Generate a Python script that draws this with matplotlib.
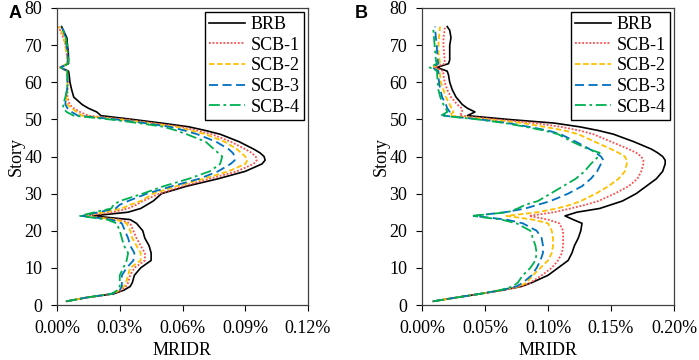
import matplotlib
matplotlib.use("Agg")
import matplotlib.pyplot as plt
from matplotlib.ticker import FuncFormatter

stories = [1, 2, 3, 4, 5, 6, 8, 10, 12, 14, 16, 18, 20, 22, 23, 24, 25, 26, 27, 28,
           30, 32, 34, 36, 38, 39, 40, 41, 42, 44, 46, 47, 48, 49, 50, 51, 52, 53, 54,
           56, 58, 60, 62, 63, 64, 65, 66, 68, 70, 72, 74, 75]

series_names = ["BRB", "SCB-1", "SCB-2", "SCB-3", "SCB-4"]

# Panel A values (MRIDR in %)
a_brb = [0.0046, 0.014, 0.027, 0.032, 0.035, 0.036, 0.037, 0.040, 0.045, 0.045, 0.044, 0.042,
         0.041, 0.038, 0.035, 0.017, 0.034, 0.040, 0.043, 0.046, 0.050, 0.062, 0.077, 0.090,
         0.098, 0.0995, 0.099, 0.097, 0.094, 0.087, 0.078, 0.071, 0.063, 0.050, 0.036, 0.021,
         0.019, 0.015, 0.012, 0.008, 0.007, 0.0062, 0.0058, 0.0055, 0.0015, 0.0055, 0.0055,
         0.0054, 0.0050, 0.0047, 0.003, 0.0022]
a_scb1 = [0.0046, 0.014, 0.026, 0.031, 0.033, 0.034, 0.035, 0.037, 0.042, 0.042, 0.040, 0.038,
          0.0365, 0.035, 0.030, 0.013, 0.027, 0.034, 0.038, 0.041, 0.049, 0.060, 0.073, 0.086,
          0.094, 0.0955, 0.095, 0.093, 0.090, 0.083, 0.074, 0.067, 0.059, 0.046, 0.032, 0.015,
          0.011, 0.008, 0.006, 0.005, 0.005, 0.0052, 0.005, 0.0048, 0.0015, 0.005, 0.005,
          0.0045, 0.004, 0.003, 0.0015, 0.0008]
a_scb2 = [0.0046, 0.014, 0.026, 0.030, 0.032, 0.033, 0.034, 0.035, 0.040, 0.040, 0.038, 0.036,
          0.035, 0.0333, 0.028, 0.012, 0.023, 0.031, 0.035, 0.040, 0.046, 0.057, 0.070, 0.082,
          0.090, 0.091, 0.090, 0.088, 0.086, 0.080, 0.071, 0.064, 0.057, 0.044, 0.030, 0.012,
          0.0094, 0.007, 0.005, 0.0045, 0.005, 0.005, 0.0048, 0.0046, 0.0015, 0.0048, 0.005,
          0.0045, 0.004, 0.0032, 0.002, 0.001]
a_scb3 = [0.0046, 0.014, 0.026, 0.030, 0.031, 0.031, 0.031, 0.0333, 0.0365, 0.037, 0.035, 0.034,
          0.0325, 0.031, 0.026, 0.012, 0.020, 0.028, 0.030, 0.034, 0.043, 0.055, 0.068, 0.077,
          0.083, 0.085, 0.085, 0.084, 0.082, 0.076, 0.067, 0.061, 0.054, 0.042, 0.028, 0.010,
          0.007, 0.005, 0.004, 0.0042, 0.0048, 0.005, 0.005, 0.0048, 0.0018, 0.005, 0.0052,
          0.005, 0.0045, 0.004, 0.003, 0.002]
a_scb4 = [0.0046, 0.014, 0.026, 0.029, 0.030, 0.030, 0.030, 0.0317, 0.0333, 0.034, 0.032, 0.031,
          0.030, 0.0285, 0.024, 0.011, 0.018, 0.026, 0.027, 0.030, 0.041, 0.051, 0.063, 0.073,
          0.078, 0.0785, 0.079, 0.077, 0.075, 0.071, 0.062, 0.057, 0.051, 0.039, 0.025, 0.008,
          0.0046, 0.003, 0.003, 0.004, 0.0048, 0.005, 0.005, 0.005, 0.002, 0.0052, 0.0055,
          0.0052, 0.0048, 0.0042, 0.003, 0.0022]

# Panel B values (MRIDR in %)
b_brb = [0.009, 0.027, 0.046, 0.064, 0.079, 0.087, 0.100, 0.108, 0.116, 0.119, 0.121, 0.124,
         0.126, 0.127, 0.120, 0.1135, 0.123, 0.141, 0.150, 0.159, 0.170, 0.178, 0.186, 0.191,
         0.193, 0.193, 0.191, 0.187, 0.182, 0.168, 0.152, 0.140, 0.125, 0.105, 0.068, 0.036,
         0.042, 0.036, 0.032, 0.027, 0.024, 0.022, 0.021, 0.020, 0.0117, 0.021, 0.022, 0.022,
         0.022, 0.023, 0.022, 0.020]
b_scb1 = [0.009, 0.027, 0.046, 0.064, 0.079, 0.086, 0.095, 0.103, 0.108, 0.111, 0.112, 0.112,
          0.112, 0.109, 0.100, 0.085, 0.105, 0.118, 0.130, 0.140, 0.153, 0.164, 0.171, 0.174,
          0.1757, 0.1757, 0.174, 0.170, 0.164, 0.150, 0.136, 0.125, 0.110, 0.090, 0.058, 0.030,
          0.032, 0.0315, 0.028, 0.023, 0.020, 0.018, 0.017, 0.017, 0.010, 0.018, 0.018, 0.0175,
          0.017, 0.017, 0.018, 0.018]
b_scb2 = [0.009, 0.027, 0.046, 0.063, 0.077, 0.083, 0.088, 0.094, 0.100, 0.103, 0.104, 0.104,
          0.103, 0.100, 0.088, 0.067, 0.092, 0.107, 0.118, 0.126, 0.138, 0.148, 0.156, 0.161,
          0.1625, 0.1625, 0.161, 0.156, 0.150, 0.137, 0.124, 0.113, 0.097, 0.080, 0.052, 0.022,
          0.025, 0.0235, 0.022, 0.019, 0.017, 0.015, 0.0143, 0.014, 0.008, 0.0143, 0.014, 0.013,
          0.013, 0.0135, 0.014, 0.0143]
b_scb3 = [0.009, 0.027, 0.046, 0.063, 0.075, 0.080, 0.087, 0.091, 0.094, 0.096, 0.096, 0.095,
          0.091, 0.080, 0.067, 0.041, 0.066, 0.082, 0.092, 0.102, 0.116, 0.127, 0.134, 0.139,
          0.142, 0.144, 0.142, 0.138, 0.133, 0.122, 0.110, 0.100, 0.085, 0.068, 0.046, 0.017,
          0.022, 0.020, 0.019, 0.016, 0.0145, 0.0135, 0.013, 0.013, 0.008, 0.013, 0.0125, 0.012,
          0.0117, 0.011, 0.0105, 0.0103]
b_scb4 = [0.009, 0.027, 0.046, 0.062, 0.072, 0.076, 0.080, 0.086, 0.090, 0.091, 0.090, 0.088,
          0.086, 0.075, 0.063, 0.040, 0.068, 0.076, 0.082, 0.092, 0.102, 0.112, 0.122, 0.129,
          0.134, 0.137, 0.140, 0.141, 0.132, 0.119, 0.108, 0.097, 0.082, 0.066, 0.044, 0.015,
          0.020, 0.019, 0.017, 0.0145, 0.013, 0.0125, 0.012, 0.012, 0.006, 0.0117, 0.011, 0.0105,
          0.010, 0.0095, 0.009, 0.009]

x_ticks_a = [0.00, 0.03, 0.06, 0.09, 0.12]
x_ticks_b = [0.00, 0.05, 0.10, 0.15, 0.20]
y_ticks = [0, 10, 20, 30, 40, 50, 60, 70, 80]

colors = ["#000000", "#FF4B4B", "#FFC000", "#0070C0", "#00B050"]
styles = ["-", (0, (1, 1)), (0, (3, 1.5)), (0, (5, 2.5)), (0, (6, 2, 1.5, 2))]
widths = [1.2, 1.3, 1.3, 1.3, 1.3]

serif = ["Liberation Serif", "DejaVu Serif"]
plt.rcParams["font.family"] = serif

fig = plt.figure(figsize=(6.99, 3.6), dpi=100)
W, H = 699, 360
axA = fig.add_axes([57 / W, 1 - 305 / H, (308 - 57) / W, (305 - 8) / H])
axB = fig.add_axes([422 / W, 1 - 305 / H, (674 - 422) / W, (305 - 8) / H])

panels = [
    (axA, [a_brb, a_scb1, a_scb2, a_scb3, a_scb4], x_ticks_a),
    (axB, [b_brb, b_scb1, b_scb2, b_scb3, b_scb4], x_ticks_b),
]

for ax, data, xt in panels:
    for vals, name, c, ls, lw in zip(data, series_names, colors, styles, widths):
        ax.plot(vals, stories, color=c, linestyle=ls, linewidth=lw, label=name)
    ax.set_xlim(xt[0], xt[-1])
    ax.set_ylim(0, 80)
    ax.set_xticks(xt)
    ax.set_yticks(y_ticks)
    ax.xaxis.set_major_formatter(FuncFormatter(lambda v, p: f"{v:.2f}%"))
    ax.tick_params(direction="out", length=4, width=0.8, labelsize=13, pad=6.5)
    for sp in ax.spines.values():
        sp.set_linewidth(0.9)
        sp.set_color("#404040")
    ax.set_xlabel("MRIDR", fontsize=13, labelpad=4)
    ax.set_ylabel("Story", fontsize=13, labelpad=0)
    leg = ax.legend(loc="upper right", fontsize=13, frameon=True, fancybox=False,
                    edgecolor="black", framealpha=1, handlelength=2.0,
                    handletextpad=0.3, labelspacing=0.2, borderpad=0.25,
                    borderaxespad=0.2)
    leg.get_frame().set_linewidth(1.0)

fig.text(9 / W, 1 - 14 / H, "A", fontsize=13, fontweight="bold",
         family=["Liberation Sans", "DejaVu Sans"], va="center", ha="left")
fig.text(355 / W, 1 - 14 / H, "B", fontsize=13, fontweight="bold",
         family=["Liberation Sans", "DejaVu Sans"], va="center", ha="left")

fig.savefig("out.png", dpi=100)
